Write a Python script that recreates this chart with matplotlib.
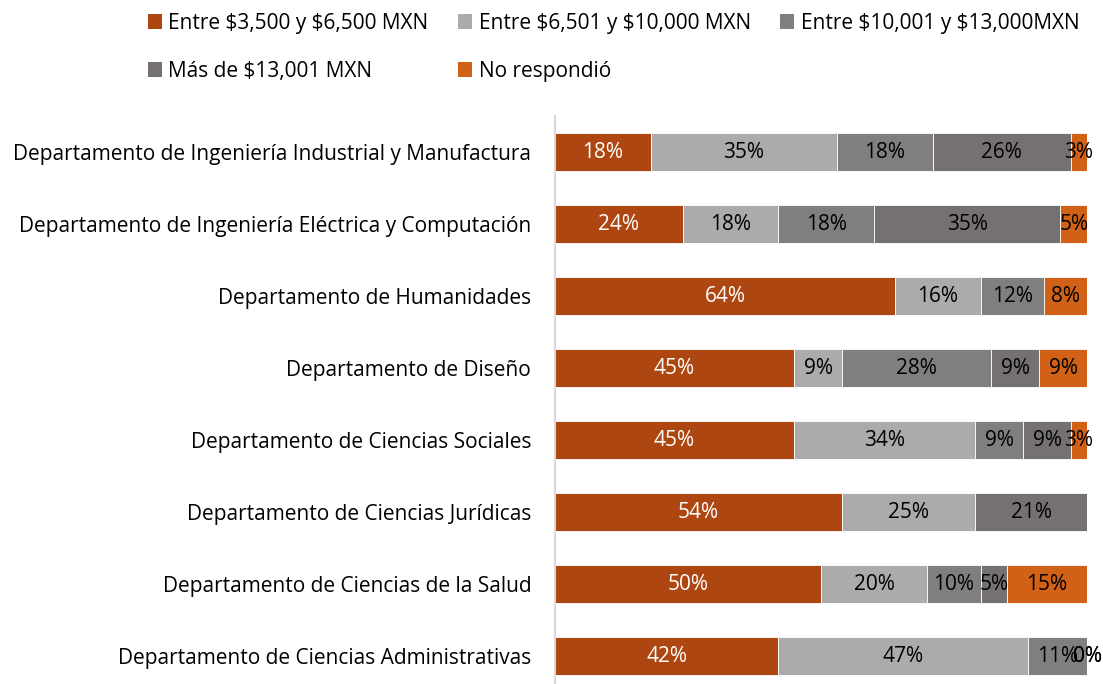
import matplotlib.pyplot as plt
import numpy as np
from matplotlib.patches import Patch

plt.rcParams['font.family'] = ['Open Sans', 'DejaVu Sans']
plt.rcParams['text.parse_math'] = False

departamentos = [
    "Departamento de Ingeniería Industrial y Manufactura",
    "Departamento de Ingeniería Eléctrica y Computación",
    "Departamento de Humanidades",
    "Departamento de Diseño",
    "Departamento de Ciencias Sociales",
    "Departamento de Ciencias Jurídicas",
    "Departamento de Ciencias de la Salud",
    "Departamento de Ciencias Administrativas",
]
series_names = [
    "Entre $3,500 y $6,500 MXN",
    "Entre $6,501 y $10,000 MXN",
    "Entre $10,001 y $13,000MXN",
    "Más de $13,001 MXN",
    "No respondió",
]
# porcentajes, None = sin dato
entre_3500 = [18, 24, 64, 45, 45, 54, 50, 42]
entre_6501 = [35, 18, 16, 9, 34, 25, 20, 47]
entre_10001 = [18, 18, 12, 28, 9, None, 10, 11]
mas_13001 = [26, 35, None, 9, 9, 21, 5, 0]
no_respondio = [3, 5, 8, 9, 3, None, 15, 0]

colores = ["#AE4611", "#ABABAB", "#7F7F7F", "#767171", "#D06116"]
color_texto = ["white", "black", "black", "black", "black"]

data = [entre_3500, entre_6501, entre_10001, mas_13001, no_respondio]
fs = 15

fig = plt.figure(figsize=(11.03, 6.84), dpi=100)
ax = fig.add_axes([0.503, -0.0117, 0.4825, 0.8421])

y = np.arange(len(departamentos))
left = np.zeros(len(departamentos))
for vals, col, tcol in zip(data, colores, color_texto):
    v = np.array([np.nan if x is None else x for x in vals], dtype=float)
    w = np.nan_to_num(v)
    bars = ax.barh(y, w, left=left, height=0.53, color=col,
                   edgecolor="white", linewidth=0.6)
    labels = ["" if np.isnan(x) else f"{x:.0f}%" for x in v]
    ax.bar_label(bars, labels=labels, label_type="center", color=tcol,
                 fontsize=fs)
    left += w

ax.set_xlim(0, 100)
ax.set_ylim(len(departamentos) - 0.5, -0.5)
ax.set_yticks(y)
ax.set_yticklabels(departamentos, fontsize=fs)
ax.tick_params(axis="y", length=0, pad=17)
ax.set_xticks([])
for s in ["top", "right", "bottom"]:
    ax.spines[s].set_visible(False)
ax.spines["left"].set_color("#D9D9D9")
ax.spines["left"].set_linewidth(1.5)

handles = [Patch(facecolor=c, label=n) for c, n in zip(colores, series_names)]
order = [0, 3, 1, 4, 2]
fig.legend([handles[i] for i in order], [series_names[i] for i in order],
           ncol=3, loc="upper left", bbox_to_anchor=(0.1225, 1.0),
           frameon=False, fontsize=fs, handlelength=0.7, handleheight=0.7,
           handletextpad=0.3, columnspacing=1.4, labelspacing=1.3,
           borderaxespad=0.2)

fig.savefig("out.png", dpi=100)
